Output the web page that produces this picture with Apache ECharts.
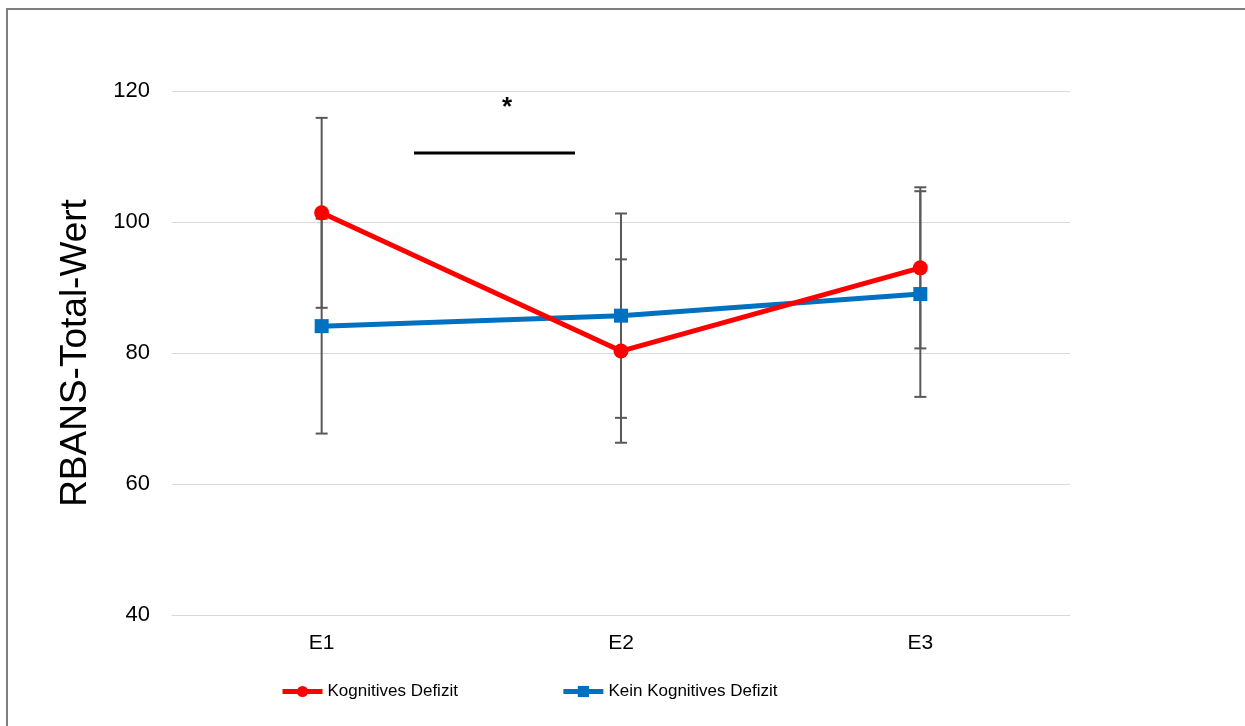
<!DOCTYPE html>
<html>
<head>
<meta charset="utf-8">
<title>RBANS-Total-Wert</title>
<script src="https://cdn.jsdelivr.net/npm/echarts@6/dist/echarts.min.js"></script>
<style>
  html, body { margin: 0; padding: 0; background: #ffffff; }
  #chart { width: 1245px; height: 726px; }
</style>
</head>
<body>
<div id="chart"></div>
<script>
// Measurement points
const categories = ['E1', 'E2', 'E3'];

// Group means and standard deviations
const defizitMean = [101.4, 80.3, 93.0];
const defizitSD = [14.5, 14.0, 12.3];
const keinDefizitMean = [84.1, 85.7, 89.0];
const keinDefizitSD = [16.4, 15.6, 15.7];

// Y axis ticks
const yMin = 40;
const yMax = 120;
const yStep = 20;

const seriesNames = ['Kognitives Defizit', 'Kein Kognitives Defizit'];

const FONT = '"Liberation Sans", Arial, sans-serif';
const RED = '#ff0000';
const BLUE = '#0070c0';
const BAR_GRAY = '#595959';

function errorData(mean, sd) {
  return mean.map((m, i) => [i, m - sd[i], m + sd[i]]);
}

function renderErrorBar(params, api) {
  const lo = api.coord([api.value(0), api.value(1)]);
  const hi = api.coord([api.value(0), api.value(2)]);
  const half = 6;
  const style = { stroke: BAR_GRAY, lineWidth: 2, fill: null };
  return {
    type: 'group',
    children: [
      { type: 'line', shape: { x1: hi[0], y1: hi[1], x2: lo[0], y2: lo[1] }, style },
      { type: 'line', shape: { x1: hi[0] - half, y1: hi[1], x2: hi[0] + half, y2: hi[1] }, style },
      { type: 'line', shape: { x1: lo[0] - half, y1: lo[1], x2: lo[0] + half, y2: lo[1] }, style }
    ]
  };
}

const chart = echarts.init(document.getElementById('chart'), null, { renderer: 'canvas' });

chart.setOption({
  backgroundColor: '#ffffff',
  animation: false,
  textStyle: { fontFamily: FONT },
  grid: { left: 172, right: 175, top: 91, bottom: 111 },
  xAxis: {
    type: 'category',
    data: categories,
    boundaryGap: true,
    axisLine: { show: true, lineStyle: { color: '#d9d9d9', width: 1 } },
    axisTick: { show: false },
    axisLabel: { color: '#000000', fontSize: 21, fontFamily: FONT, margin: 18 }
  },
  yAxis: {
    type: 'value',
    min: yMin,
    max: yMax,
    interval: yStep,
    name: 'RBANS-Total-Wert',
    nameLocation: 'middle',
    nameGap: 78,
    nameTextStyle: { color: '#000000', fontSize: 37, fontFamily: FONT },
    axisLine: { show: false },
    axisTick: { show: false },
    axisLabel: { color: '#000000', fontSize: 22, fontFamily: FONT, margin: 22 },
    splitLine: { lineStyle: { color: '#d9d9d9', width: 1 } }
  },
  legend: {
    left: 280,
    top: 683,
    padding: 0,
    itemWidth: 40,
    itemHeight: 14,
    itemGap: 103,
    lineStyle: { width: 5 },
    textStyle: { color: '#000000', fontSize: 17, fontFamily: FONT },
    data: seriesNames
  },
  series: [
    {
      type: 'custom',
      name: 'sd-defizit',
      renderItem: renderErrorBar,
      data: errorData(defizitMean, defizitSD),
      z: 1,
      silent: true
    },
    {
      type: 'custom',
      name: 'sd-kein',
      renderItem: renderErrorBar,
      data: errorData(keinDefizitMean, keinDefizitSD),
      z: 1,
      silent: true
    },
    {
      type: 'line',
      name: seriesNames[1],
      data: keinDefizitMean,
      symbol: 'rect',
      symbolSize: 14,
      itemStyle: { color: BLUE },
      lineStyle: { color: BLUE, width: 5 },
      z: 3
    },
    {
      type: 'line',
      name: seriesNames[0],
      data: defizitMean,
      symbol: 'circle',
      symbolSize: 15,
      itemStyle: { color: RED },
      lineStyle: { color: RED, width: 5 },
      z: 4
    }
  ],
  graphic: [
    // outer frame
    {
      type: 'rect',
      shape: { x: 7, y: 9, width: 1300, height: 800 },
      style: { fill: null, stroke: '#7f7f7f', lineWidth: 2 },
      silent: true
    },
    // significance bracket between E1 and E2
    {
      type: 'line',
      shape: { x1: 414, y1: 153, x2: 575, y2: 153 },
      style: { stroke: '#000000', lineWidth: 3 },
      silent: true
    },
    {
      type: 'text',
      x: 507,
      y: 108,
      style: {
        text: '*',
        fill: '#000000',
        font: 'bold 26px ' + FONT,
        align: 'center',
        verticalAlign: 'middle'
      },
      silent: true
    }
  ]
});
</script>
</body>
</html>
